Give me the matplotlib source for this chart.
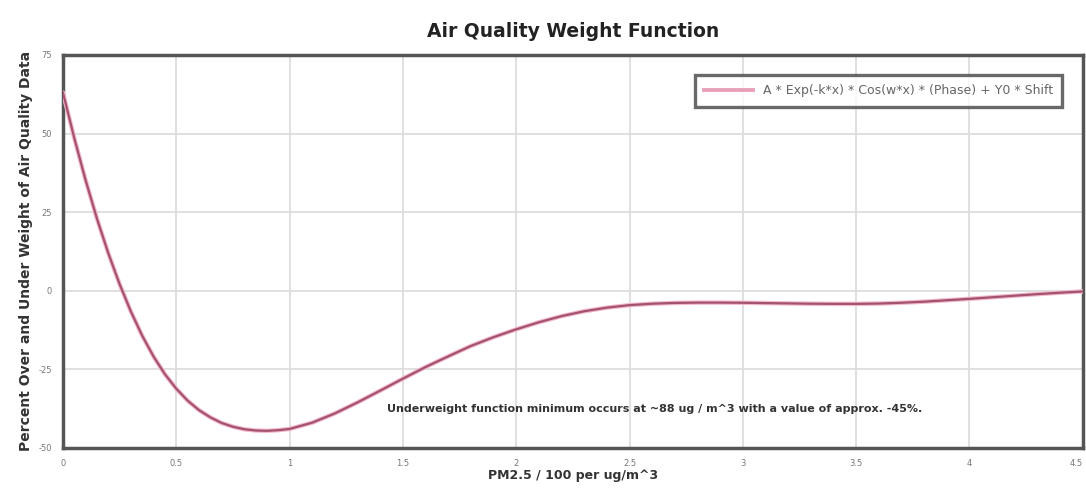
import matplotlib
matplotlib.use("Agg")
import matplotlib.pyplot as plt

plt.rcParams['font.family'] = ['DejaVu Sans']

# ---- data ----
x_vals = [0.0, 0.05, 0.1, 0.15, 0.2, 0.25, 0.3, 0.35, 0.4, 0.45, 0.5, 0.55, 0.6, 0.65,
          0.7, 0.75, 0.8, 0.85, 0.9, 0.95, 1.0, 1.1, 1.2, 1.3, 1.4, 1.5, 1.6, 1.7, 1.8,
          1.9, 2.0, 2.1, 2.2, 2.3, 2.4, 2.5, 2.6, 2.7, 2.8, 2.9, 3.0, 3.1, 3.2, 3.3,
          3.4, 3.5, 3.6, 3.7, 3.8, 3.9, 4.0, 4.1, 4.2, 4.3, 4.4, 4.5]
y_vals = [63, 48.5, 35.1, 22.9, 11.9, 2.05, -6.7, -14.4, -21.0, -26.6, -31.2, -35.0, -38.0, -40.3,
          -42.1, -43.3, -44.1, -44.5, -44.6, -44.4, -44.0, -42.0, -39.05, -35.55, -31.8, -28.0, -24.3,
          -20.9, -17.6, -14.8, -12.3, -10.05, -8.1, -6.55, -5.4, -4.6, -4.15, -3.9, -3.8, -3.8,
          -3.85, -3.95, -4.05, -4.15, -4.2, -4.2, -4.1, -3.85, -3.5, -3.05, -2.6, -2.1, -1.6,
          -1.1, -0.65, -0.25]
x_ticks = [0, 0.5, 1, 1.5, 2, 2.5, 3, 3.5, 4, 4.5]
x_tick_labels = ["0", "0.5", "1", "1.5", "2", "2.5", "3", "3.5", "4", "4.5"]
y_ticks = [-50, -25, 0, 25, 50, 75]
y_tick_labels = ["-50", "-25", "0", "25", "50", "75"]
series_label = "A * Exp(-k*x) * Cos(w*x) * (Phase) + Y0 * Shift"
title = "Air Quality Weight Function"
x_label = "PM2.5 / 100 per ug/m^3"
y_label = "Percent Over and Under Weight of Air Quality Data"
note = "Underweight function minimum occurs at ~88 ug / m^3 with a value of approx. -45%."

fig = plt.figure(figsize=(10.86, 4.91), dpi=100)
ax = fig.add_axes([0.058, 0.088, 0.939, 0.800])

ax.plot(x_vals, y_vals, color="#f4b8cc", linewidth=3.2, solid_capstyle="round",
        solid_joinstyle="round", zorder=3)
ax.plot(x_vals, y_vals, color="#a3526f", linewidth=1.6, solid_joinstyle="round",
        label=series_label, zorder=4)

ax.set_xlim(0, 4.5)
ax.set_ylim(-50, 75)
ax.set_xticks(x_ticks)
ax.set_xticklabels(x_tick_labels)
ax.set_yticks(y_ticks)
ax.set_yticklabels(y_tick_labels)
ax.tick_params(length=0, labelsize=6, colors="#777777", pad=8)
ax.get_xticklabels()[-1].set_ha("right")
ax.grid(True, color="#dddddd", linewidth=1.3)
ax.set_axisbelow(True)
for s in ax.spines.values():
    s.set_color("#555555")
    s.set_linewidth(2.5)

ax.set_title(title, fontsize=13.5, fontweight="bold", color="#222222", pad=13)
ax.set_xlabel(x_label, fontsize=9, fontweight="bold", color="#333333", labelpad=1)
ax.set_ylabel(y_label, fontsize=10, fontweight="bold", color="#333333", labelpad=4)

ax.text(1.43, -37.8, note, fontsize=8, fontweight="bold", color="#333333",
        va="center", ha="left")

leg = ax.legend(loc="upper right", fontsize=9, frameon=True, fancybox=False,
                borderpad=0.75, handlelength=3.9, bbox_to_anchor=(0.986, 0.965))
leg.get_frame().set_edgecolor("#444444")
leg.get_frame().set_linewidth(2.4)
for t in leg.get_texts():
    t.set_color("#666666")
leg.get_lines()[0].set_color("#e8a0b8")
leg.get_lines()[0].set_linewidth(2.8)

fig.savefig("out.png", dpi=100)
